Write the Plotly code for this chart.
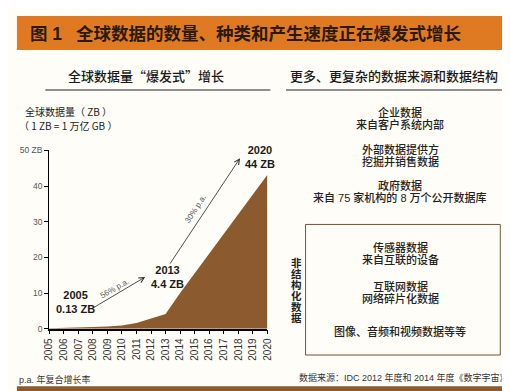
import plotly.graph_objects as go

W, H = 510, 391

years = list(range(2005, 2021))
zb = [0.13, 0.2, 0.3, 0.45, 0.65, 0.9, 1.6, 2.8, 4.1, 10.0, 15.5, 21.0, 26.5, 32.0, 37.5, 43.2]
y_tickvals = [0, 10, 20, 30, 40, 50]
y_ticktext = ["0", "10", "20", "30", "40", "50 ZB"]

title = "全球数据的数量、种类和产生速度正在爆发式增长"
left_header = "全球数据量“爆发式”增长"
right_header = "更多、更复杂的数据来源和数据结构"
sources_top = [("企业数据", "来自客户系统内部"), ("外部数据提供方", "挖掘并销售数据"),
               ("政府数据", "来自 75 家机构的 8 万个公开数据库")]
sources_box = [("传感器数据", "来自互联的设备"), ("互联网数据", "网络碎片化数据")]
box_last = "图像、音频和视频数据等等"
vert_label = "非结构化数据"

ORANGE = "#E07A22"
BROWN = "#8B5A2E"
BG = "#FFFDF8"
FONT = "Liberation Sans, Noto Sans CJK SC, sans-serif"
CJK = "Noto Sans CJK SC, sans-serif"


def px(x):
    return x / W


def py(y):
    return 1 - y / H


fig = go.Figure()
fig.add_trace(go.Scatter(x=years, y=zb, mode="lines", fill="tozeroy",
                         line=dict(width=0, color=BROWN), fillcolor=BROWN,
                         hoverinfo="skip", showlegend=False))

fig.update_layout(
    width=W, height=H, margin=dict(l=0, r=0, t=0, b=0),
    paper_bgcolor=BG, plot_bgcolor=BG, showlegend=False,
    font=dict(family=FONT, color="#222"),
    xaxis=dict(domain=[px(36), px(259)], range=[2005, 2020], tickmode="array",
               tickvals=years, ticktext=[str(v) for v in years], tickangle=-90,
               ticks="outside", ticklen=4, tickcolor="#000", showline=True,
               linecolor="#000", linewidth=1.5, showgrid=False, zeroline=False,
               tickfont=dict(size=10, color="#333"), fixedrange=True),
    yaxis=dict(domain=[py(324), py(141)], range=[0, 50], tickmode="array",
               tickvals=y_tickvals, ticktext=y_ticktext, ticks="outside",
               ticklen=4, tickcolor="#000", showline=True, linecolor="#000",
               linewidth=1.2, showgrid=False, zeroline=False,
               tickfont=dict(size=8.5, color="#555"), fixedrange=True),
)

shapes = [
    dict(type="rect", xref="paper", yref="paper", x0=px(3), x1=px(506), y0=py(38), y1=py(3),
         fillcolor=ORANGE, line=dict(width=0), layer="below"),
    dict(type="line", xref="paper", yref="paper", x0=px(32), x1=px(262), y0=py(79), y1=py(79),
         line=dict(color="#222", width=1.2)),
    dict(type="line", xref="paper", yref="paper", x0=px(278), x1=px(508), y0=py(79), y1=py(79),
         line=dict(color="#222", width=1.2)),
    dict(type="rect", xref="paper", yref="paper", x0=px(298), x1=px(497), y0=py(351), y1=py(217),
         line=dict(color="#7a5230", width=1), fillcolor="rgba(0,0,0,0)"),
    dict(type="rect", xref="paper", yref="paper", x0=px(3), x1=px(507), y0=py(388), y1=py(383),
         fillcolor=BROWN, line=dict(width=0)),
]
fig.update_layout(shapes=shapes)


def txt(x, y, text, size=11, color="#222", xanchor="center", weight="normal", angle=0, family=FONT):
    fig.add_annotation(x=px(x), y=py(y), xref="paper", yref="paper", text=text,
                       showarrow=False, xanchor=xanchor, yanchor="middle",
                       textangle=angle, borderpad=0,
                       font=dict(size=size, color=color, family=family, weight=weight))


# title bar
txt(15, 22, "图 1", size=17.5, color="#2b1a0c", xanchor="left", weight="bold")
txt(62, 22, title, size=17.5, color="#2b1a0c", xanchor="left", weight="bold")

# headers
txt(135, 64, left_header, size=13, color="#1a1a1a", weight=500, family=CJK)
txt(388, 64, right_header, size=13, color="#1a1a1a", weight=500, family=CJK)

# y-axis caption
txt(10, 101, "全球数据量（ ZB ）", size=10, xanchor="left", family=CJK)
txt(4, 115, "（ 1 ZB = 1 万亿 GB ）", size=10, xanchor="left", family=CJK)

# point labels
txt(63, 297, "2005<br>0.13 ZB", size=11, color="#1a1a1a", weight="bold")
txt(157, 271, "2013<br>4.4 ZB", size=11, color="#1a1a1a", weight="bold")
txt(251, 148, "2020<br>44 ZB", size=11, color="#1a1a1a", weight="bold")

# arrows
fig.add_annotation(x=px(134), y=py(271), xref="paper", yref="paper", text="",
                   showarrow=True, ax=80 - 134, ay=303 - 271, arrowhead=5,
                   arrowsize=1.3, arrowwidth=0.8, arrowcolor="#222")
fig.add_annotation(x=px(231), y=py(149), xref="paper", yref="paper", text="",
                   showarrow=True, ax=160 - 231, ay=256 - 149, arrowhead=5,
                   arrowsize=1.3, arrowwidth=0.8, arrowcolor="#222")
txt(103, 283, "56% p.a.", size=8, color="#555", angle=-30)
txt(186, 201, "30% p.a.", size=8, color="#555", angle=-57)

# right panel
ys_top = [(102, 114), (140, 152), (177, 189)]
for (a, b), (ya, yb) in zip(sources_top, ys_top):
    txt(395, ya, a, size=11, weight=500)
    txt(395, yb, b, size=11, weight=500)
ys_box = [(241, 253), (281, 293)]
for (a, b), (ya, yb) in zip(sources_box, ys_box):
    txt(395, ya, a, size=11, weight=500)
    txt(395, yb, b, size=11, weight=500)
txt(395, 327, box_last, size=11, weight=500)
for i, ch in enumerate(vert_label):
    txt(289, 257 + i * 11.1, ch, size=10.5, weight="bold")

# footnotes
txt(4, 376, "p.a. 年复合增长率", size=9, color="#333", xanchor="left")
txt(507, 374, "数据来源：IDC 2012 年度和 2014 年度《数字宇宙》", size=9, color="#333", xanchor="right")

fig.write_html("out.html")
